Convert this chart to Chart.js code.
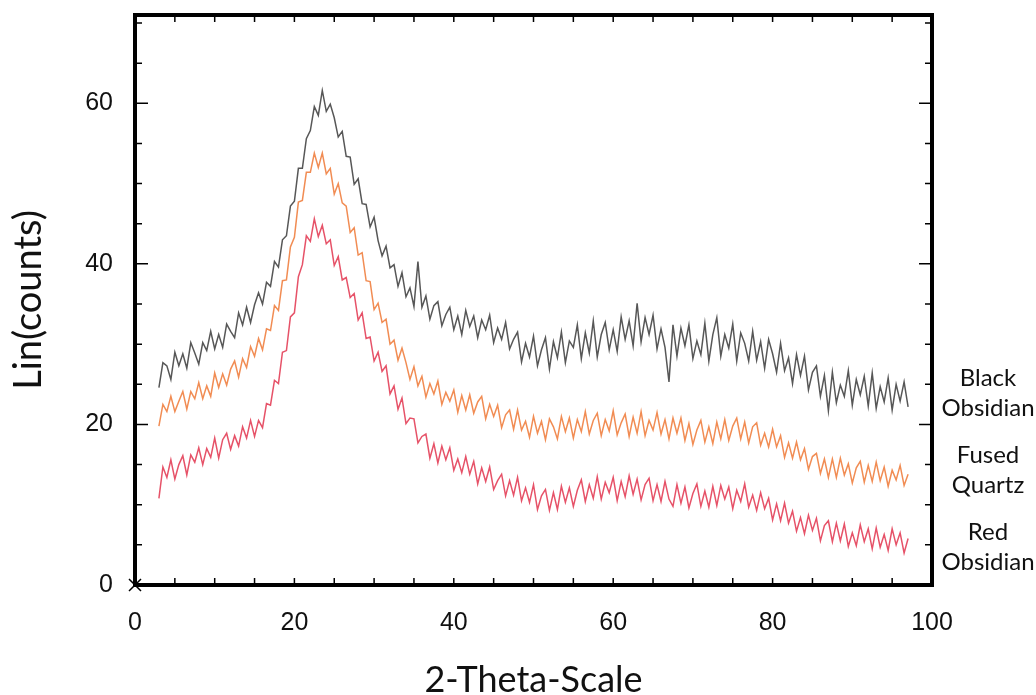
<!DOCTYPE html>
<html>
<head>
<meta charset="utf-8">
<script src="https://cdn.jsdelivr.net/npm/chart.js@4.4.0/dist/chart.umd.min.js"></script>
<style>
  html, body { margin: 0; padding: 0; background: #fff; }
  #wrap { width: 1036px; height: 695px; }
</style>
</head>
<body>
<div id="wrap"><canvas id="xrd" width="1036" height="695"></canvas></div>
<script>
// 2-theta positions (degrees), one every 0.5
const twoTheta = [
  3.0, 3.5, 4.0, 4.5, 5.0, 5.5, 6.0, 6.5, 7.0, 7.5,
  8.0, 8.5, 9.0, 9.5, 10.0, 10.5, 11.0, 11.5, 12.0, 12.5,
  13.0, 13.5, 14.0, 14.5, 15.0, 15.5, 16.0, 16.5, 17.0, 17.5,
  18.0, 18.5, 19.0, 19.5, 20.0, 20.5, 21.0, 21.5, 22.0, 22.5,
  23.0, 23.5, 24.0, 24.5, 25.0, 25.5, 26.0, 26.5, 27.0, 27.5,
  28.0, 28.5, 29.0, 29.5, 30.0, 30.5, 31.0, 31.5, 32.0, 32.5,
  33.0, 33.5, 34.0, 34.5, 35.0, 35.5, 36.0, 36.5, 37.0, 37.5,
  38.0, 38.5, 39.0, 39.5, 40.0, 40.5, 41.0, 41.5, 42.0, 42.5,
  43.0, 43.5, 44.0, 44.5, 45.0, 45.5, 46.0, 46.5, 47.0, 47.5,
  48.0, 48.5, 49.0, 49.5, 50.0, 50.5, 51.0, 51.5, 52.0, 52.5,
  53.0, 53.5, 54.0, 54.5, 55.0, 55.5, 56.0, 56.5, 57.0, 57.5,
  58.0, 58.5, 59.0, 59.5, 60.0, 60.5, 61.0, 61.5, 62.0, 62.5,
  63.0, 63.5, 64.0, 64.5, 65.0, 65.5, 66.0, 66.5, 67.0, 67.5,
  68.0, 68.5, 69.0, 69.5, 70.0, 70.5, 71.0, 71.5, 72.0, 72.5,
  73.0, 73.5, 74.0, 74.5, 75.0, 75.5, 76.0, 76.5, 77.0, 77.5,
  78.0, 78.5, 79.0, 79.5, 80.0, 80.5, 81.0, 81.5, 82.0, 82.5,
  83.0, 83.5, 84.0, 84.5, 85.0, 85.5, 86.0, 86.5, 87.0, 87.5,
  88.0, 88.5, 89.0, 89.5, 90.0, 90.5, 91.0, 91.5, 92.0, 92.5,
  93.0, 93.5, 94.0, 94.5, 95.0, 95.5, 96.0, 96.5, 97.0
];

const blackObsidian = [
  24.6, 27.7, 27.3, 25.6, 29.0, 27.3, 28.8, 27.0, 30.2, 28.9,
  27.5, 30.2, 29.2, 31.6, 29.4, 31.2, 29.6, 32.5, 31.6, 30.8,
  33.9, 32.4, 34.6, 32.7, 34.9, 36.4, 35.0, 37.7, 37.2, 40.3,
  39.6, 43.0, 43.5, 47.2, 47.8, 51.9, 51.9, 55.6, 56.6, 59.6,
  58.5, 61.6, 59.0, 59.9, 58.2, 55.8, 56.5, 53.4, 53.3, 49.9,
  50.6, 47.5, 47.4, 44.6, 45.8, 42.9, 41.0, 42.2, 39.5, 39.9,
  37.2, 38.9, 35.9, 37.0, 34.7, 40.3, 34.6, 36.0, 33.1, 34.8,
  35.3, 32.3, 33.7, 34.6, 31.8, 33.5, 31.2, 34.2, 32.2, 33.5,
  30.8, 33.0, 31.8, 33.6, 30.2, 32.0, 30.6, 32.7, 29.4, 30.6,
  31.5, 27.8, 30.1, 28.4, 31.0, 27.3, 29.3, 30.8, 26.9, 30.3,
  28.3, 31.5, 27.7, 30.4, 29.6, 32.4, 28.2, 31.4, 28.9, 32.9,
  28.4, 31.2, 32.7, 29.3, 31.8, 29.1, 33.4, 30.6, 32.9, 29.8,
  35.1, 30.3, 33.3, 31.2, 33.6, 29.4, 31.9, 29.6, 25.3, 32.4,
  28.5, 32.0, 29.8, 32.4, 28.2, 30.4, 28.7, 32.6, 27.9, 31.2,
  33.3, 28.5, 31.2, 29.5, 32.5, 27.9, 31.4, 30.1, 27.9, 31.6,
  28.0, 30.3, 27.0, 30.6, 28.8, 26.5, 30.1, 26.7, 28.3, 25.1,
  28.7, 26.1, 28.5, 24.3, 26.5, 27.3, 23.5, 26.1, 21.7, 26.5,
  22.7, 24.9, 23.5, 26.7, 22.4, 25.6, 23.7, 26.0, 22.3, 26.4,
  22.0, 24.7, 22.8, 25.8, 21.8, 25.0, 22.9, 25.3, 22.2
];

const fusedQuartz = [
  19.8, 22.5, 21.6, 23.5, 21.6, 22.9, 24.1, 21.9, 24.1, 23.2,
  25.2, 23.2, 24.8, 23.5, 26.4, 24.6, 26.3, 24.9, 26.9, 27.9,
  25.9, 28.2, 27.1, 29.7, 28.5, 30.7, 29.3, 31.9, 31.7, 34.8,
  34.2, 37.9, 38.0, 42.1, 43.3, 47.7, 47.9, 51.4, 51.4, 53.8,
  52.0, 53.8, 51.2, 51.9, 48.7, 50.0, 47.6, 47.2, 43.9, 44.5,
  41.1, 41.4, 37.9, 37.8, 34.3, 35.1, 32.7, 33.1, 30.0, 30.5,
  28.0, 29.5, 27.7, 25.6, 27.2, 24.8, 26.0, 23.4, 25.1, 23.8,
  25.4, 22.5, 24.0, 22.9, 24.3, 21.5, 23.6, 21.8, 23.7, 21.4,
  22.8, 23.5, 20.7, 22.5, 21.0, 22.4, 19.6, 21.2, 21.8, 19.4,
  21.8, 19.3, 20.4, 18.4, 21.0, 18.9, 20.4, 18.1, 20.7, 19.7,
  18.2, 21.0, 19.1, 20.8, 18.3, 20.6, 19.1, 21.6, 18.8, 20.5,
  21.4, 18.6, 20.6, 19.2, 21.7, 18.7, 20.2, 21.3, 18.5, 20.9,
  18.9, 21.6, 18.6, 20.5, 19.3, 21.5, 18.8, 20.6, 18.2, 20.8,
  18.9, 20.8, 18.0, 20.1, 17.5, 19.3, 20.5, 17.8, 19.7, 17.6,
  20.3, 18.2, 20.6, 18.0, 19.8, 20.8, 18.2, 20.3, 17.7, 19.7,
  20.2, 17.4, 18.9, 17.2, 19.4, 17.2, 18.6, 15.9, 17.7, 15.8,
  17.8, 15.6, 17.0, 14.4, 16.0, 16.4, 13.9, 15.7, 13.4, 15.7,
  13.4, 15.8, 13.7, 15.1, 12.7, 14.6, 15.4, 12.8, 14.9, 12.9,
  15.3, 13.0, 14.7, 12.3, 14.3, 13.1, 14.9, 12.4, 13.8
];

const redObsidian = [
  10.8, 14.7, 13.4, 15.6, 13.2, 15.0, 16.1, 13.7, 16.2, 15.3,
  17.1, 15.0, 17.0, 15.9, 18.3, 15.8, 18.1, 18.9, 16.9, 18.6,
  17.3, 19.7, 18.3, 20.5, 18.5, 20.5, 19.6, 22.6, 22.4, 25.5,
  25.1, 29.0, 29.2, 33.4, 33.9, 38.4, 39.9, 43.5, 42.8, 45.6,
  43.4, 44.8, 42.5, 43.0, 39.8, 40.9, 38.0, 38.3, 35.8, 36.3,
  33.0, 33.9, 30.7, 30.9, 27.9, 29.0, 26.6, 27.3, 23.8, 24.8,
  21.9, 23.3, 20.1, 20.8, 20.7, 17.7, 18.5, 18.8, 15.8, 17.6,
  15.2, 17.3, 15.6, 17.1, 14.3, 15.7, 14.0, 16.0, 13.8, 15.4,
  12.6, 14.6, 12.9, 14.7, 11.9, 13.0, 13.8, 11.1, 13.0, 11.2,
  13.4, 10.5, 12.1, 10.3, 12.5, 9.4, 11.1, 11.9, 9.3, 11.5,
  9.4, 12.3, 10.3, 12.1, 9.8, 11.8, 13.1, 10.4, 12.5, 10.8,
  13.5, 10.7, 12.8, 11.5, 13.4, 10.5, 12.9, 11.0, 13.6, 11.3,
  13.2, 10.6, 12.5, 13.3, 10.5, 12.5, 10.4, 12.9, 10.7, 9.8,
  12.5, 10.2, 12.2, 9.6, 11.4, 12.6, 9.8, 11.7, 9.7, 12.3,
  9.9, 12.4, 10.7, 12.2, 9.5, 11.8, 10.4, 12.6, 9.7, 11.2,
  9.3, 11.5, 9.5, 10.8, 8.1, 10.1, 8.0, 10.2, 7.7, 9.2,
  6.7, 8.4, 6.4, 8.7, 6.8, 8.3, 5.5, 7.4, 8.0, 5.4,
  7.7, 5.5, 7.6, 4.8, 6.5, 4.9, 7.5, 5.4, 7.0, 4.5,
  7.1, 4.7, 6.3, 4.3, 7.0, 5.0, 6.5, 4.0, 5.8
];

const seriesNames = [['Black', 'Obsidian'], ['Fused', 'Quartz'], ['Red', 'Obsidian']];
const labelledStep = 20;

const toPoints = arr => twoTheta.map((x, i) => ({ x: x, y: arr[i] }));

// inward tick marks, thick frame, origin cross and the sample names on the right
const framePlugin = {
    id: 'frame',
    afterDraw(chart) {
        const ctx = chart.ctx;
        const area = chart.chartArea;
        const xs = chart.scales.x;
        const ys = chart.scales.y;
        ctx.save();
        ctx.strokeStyle = '#000';
        ctx.lineWidth = 1.5;
        ctx.beginPath();
        xs.ticks.forEach(t => {
            const px = xs.getPixelForValue(t.value);
            ctx.moveTo(px, area.bottom);
            ctx.lineTo(px, area.bottom - 7);
            ctx.moveTo(px, area.top);
            ctx.lineTo(px, area.top + 7);
        });
        ys.ticks.forEach(t => {
            const py = ys.getPixelForValue(t.value);
            const len = t.value % labelledStep === 0 ? 13 : 7;
            ctx.moveTo(area.left, py);
            ctx.lineTo(area.left + len, py);
            ctx.moveTo(area.right, py);
            ctx.lineTo(area.right - len, py);
        });
        ctx.stroke();

        ctx.lineWidth = 4;
        ctx.strokeRect(area.left, area.top, area.right - area.left, area.bottom - area.top);

        // little cross at the origin
        ctx.lineWidth = 1.5;
        ctx.beginPath();
        ctx.moveTo(area.left - 6, area.bottom - 6);
        ctx.lineTo(area.left + 6, area.bottom + 6);
        ctx.moveTo(area.left - 6, area.bottom + 6);
        ctx.lineTo(area.left + 6, area.bottom - 6);
        ctx.stroke();

        ctx.fillStyle = '#111';
        ctx.font = '24px Lato';
        ctx.textAlign = 'center';
        ctx.textBaseline = 'middle';
        const labelTops = [378, 455, 532];
        seriesNames.forEach((lines, i) => {
            lines.forEach((txt, j) => {
                ctx.fillText(txt, 988, labelTops[i] + j * 30);
            });
        });
        ctx.restore();
    }
};

const ctx = document.getElementById('xrd').getContext('2d');
new Chart(ctx, {
    type: 'line',
    data: {
        datasets: [
            {
                label: 'Black Obsidian',
                data: toPoints(blackObsidian),
                borderColor: 'rgba(45, 45, 45, 0.8)',
                borderWidth: 1.5,
                pointRadius: 0
            },
            {
                label: 'Fused Quartz',
                data: toPoints(fusedQuartz),
                borderColor: 'rgba(240, 128, 64, 0.9)',
                borderWidth: 1.5,
                pointRadius: 0
            },
            {
                label: 'Red Obsidian',
                data: toPoints(redObsidian),
                borderColor: 'rgba(226, 52, 78, 0.85)',
                borderWidth: 1.5,
                pointRadius: 0
            }
        ]
    },
    options: {
        responsive: false,
        animation: false,
        devicePixelRatio: 1,
        layout: {
            padding: { left: 10, right: 104, top: 15, bottom: 0 }
        },
        plugins: {
            legend: { display: false },
            tooltip: { enabled: false }
        },
        scales: {
            x: {
                type: 'linear',
                min: 0,
                max: 100,
                afterFit: s => { s.height = 110; },
                grid: { display: false, drawTicks: false },
                border: { display: false },
                ticks: {
                    stepSize: 5,
                    autoSkip: false,
                    maxRotation: 0,
                    padding: 23,
                    color: '#111',
                    font: { family: 'Liberation Sans', size: 25 },
                    callback: v => (v % labelledStep === 0 ? v : '')
                },
                title: {
                    display: true,
                    text: '2-Theta-Scale',
                    color: '#111',
                    font: { family: 'Lato', size: 36, lineHeight: 1 },
                    padding: { top: 0, bottom: -3 }
                }
            },
            y: {
                min: 0,
                max: 71,
                afterFit: s => {
                    s.width = 125;
                    s.paddingTop = 0;
                    s.paddingBottom = 0;
                },
                grid: { display: false, drawTicks: false },
                border: { display: false },
                ticks: {
                    stepSize: 5,
                    autoSkip: false,
                    includeBounds: false,
                    padding: 22,
                    color: '#111',
                    font: { family: 'Liberation Sans', size: 25 },
                    callback: v => (v % labelledStep === 0 ? v : '')
                },
                title: {
                    display: true,
                    text: 'Lin(counts)',
                    color: '#111',
                    font: { family: 'Lato', size: 38, lineHeight: 1 },
                    padding: { top: 0, bottom: 0 }
                }
            }
        }
    },
    plugins: [framePlugin]
});
</script>
</body>
</html>
